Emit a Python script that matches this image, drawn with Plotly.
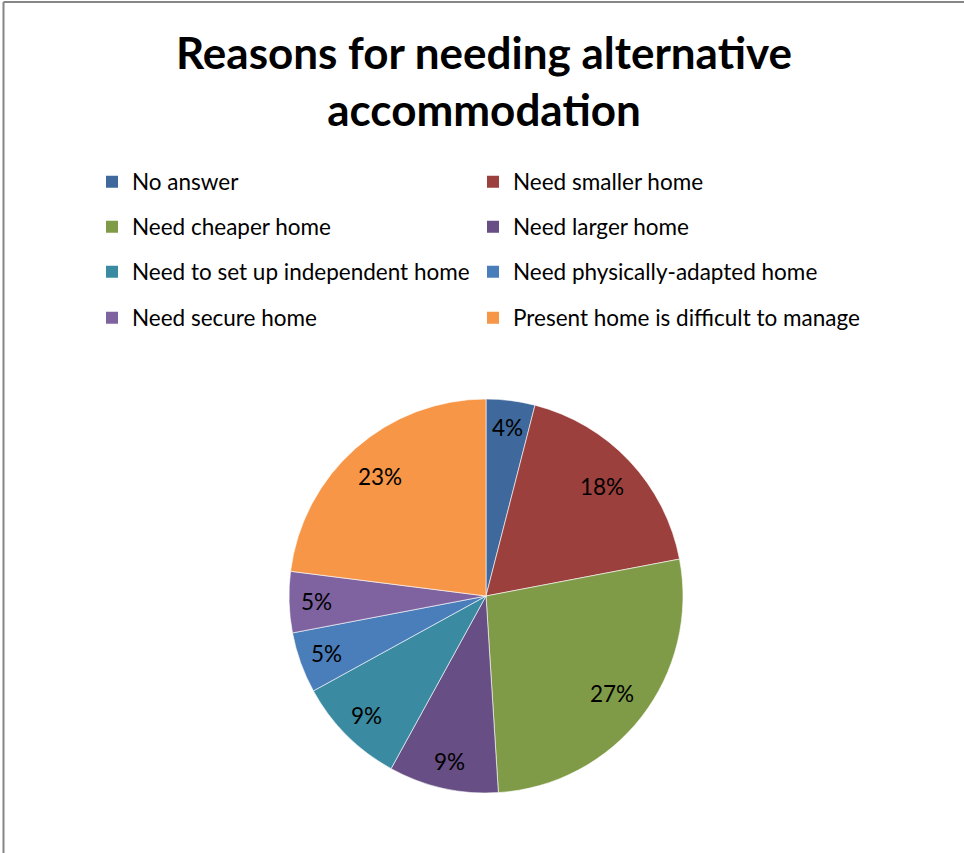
import math
import plotly.graph_objects as go

# Survey responses: reasons for needing alternative accommodation (percent)
reasons = [
    "No answer",
    "Need smaller home",
    "Need cheaper home",
    "Need larger home",
    "Need to set up independent home",
    "Need physically-adapted home",
    "Need secure home",
    "Present home is difficult to manage",
]
shares = [4, 18, 27, 9, 9, 5, 5, 23]
colors = ["#3F689C", "#9C403D", "#7F9B47", "#674E84",
          "#3A8BA1", "#4A7EBB", "#7F63A1", "#F79646"]

W, H = 964, 853
FONT = "Lato"

# pie geometry (pixels)
CX, CY, R = 486, 596, 197


def px(x):
    return x / W


def py(y):
    return 1 - y / H


fig = go.Figure()

fig.add_trace(go.Pie(
    labels=reasons,
    values=shares,
    sort=False,
    direction="clockwise",
    rotation=0,
    marker=dict(colors=colors, line=dict(color="rgba(255,255,255,0.6)", width=1)),
    textinfo="none",
    showlegend=False,
    hoverinfo="label+percent",
    domain=dict(x=[px(CX - R), px(CX + R)], y=[py(CY + R), py(CY - R)]),
))

# Percentage labels placed near the rim, at each slice's mid-angle
total = sum(shares)
annotations = []
cum = 0
for v in shares:
    mid = (cum + v / 2) / total * 2 * math.pi
    cum += v
    rr = 0.86 * R if v <= 10 else 0.81 * R
    lx = CX + rr * math.sin(mid)
    ly = CY - rr * math.cos(mid)
    annotations.append(dict(
        text=f"{v}%", x=px(lx), y=py(ly), xref="paper", yref="paper",
        showarrow=False, xanchor="center", yanchor="middle",
        font=dict(family=FONT, size=22.5, color="black"),
    ))

# Legend: two columns, four rows; each entry has its own legend box
row_y = [182, 227, 272, 318]
col_x = [92, 473]
legend_layout = {}
for i, (name, col) in enumerate(zip(reasons, colors)):
    key = "legend" if i == 0 else f"legend{i + 1}"
    fig.add_trace(go.Scatter(
        x=[None], y=[None], mode="markers", name=name,
        marker=dict(symbol="square", size=12, color=col),
        legend=key, hoverinfo="skip",
    ))
    legend_layout[key] = dict(
        orientation="h", xanchor="left", yanchor="middle",
        x=px(col_x[i % 2]), y=py(row_y[i // 2]),
        bgcolor="rgba(0,0,0,0)", borderwidth=0,
        font=dict(family=FONT, size=22.5, color="black"),
        itemclick=False, itemdoubleclick=False, itemwidth=30,
    )

fig.update_layout(
    width=W, height=H,
    margin=dict(l=0, r=0, t=0, b=0),
    paper_bgcolor="white", plot_bgcolor="white",
    xaxis=dict(visible=False), yaxis=dict(visible=False),
    title=dict(
        text="<b>Reasons for needing alternative<br>accommodation</b>",
        x=px(484), xanchor="center", xref="paper",
        y=py(68.5), yanchor="middle", yref="container",
        font=dict(family=FONT, size=44, color="black"),
    ),
    annotations=annotations,
    shapes=[
        dict(type="line", xref="paper", yref="paper",
             x0=px(3.5), x1=1, y0=py(2), y1=py(2),
             line=dict(color="#868686", width=2)),
        dict(type="line", xref="paper", yref="paper",
             x0=px(3.5), x1=px(3.5), y0=py(2), y1=0,
             line=dict(color="#868686", width=2)),
    ],
    **legend_layout,
)

fig.write_html("out.html")
